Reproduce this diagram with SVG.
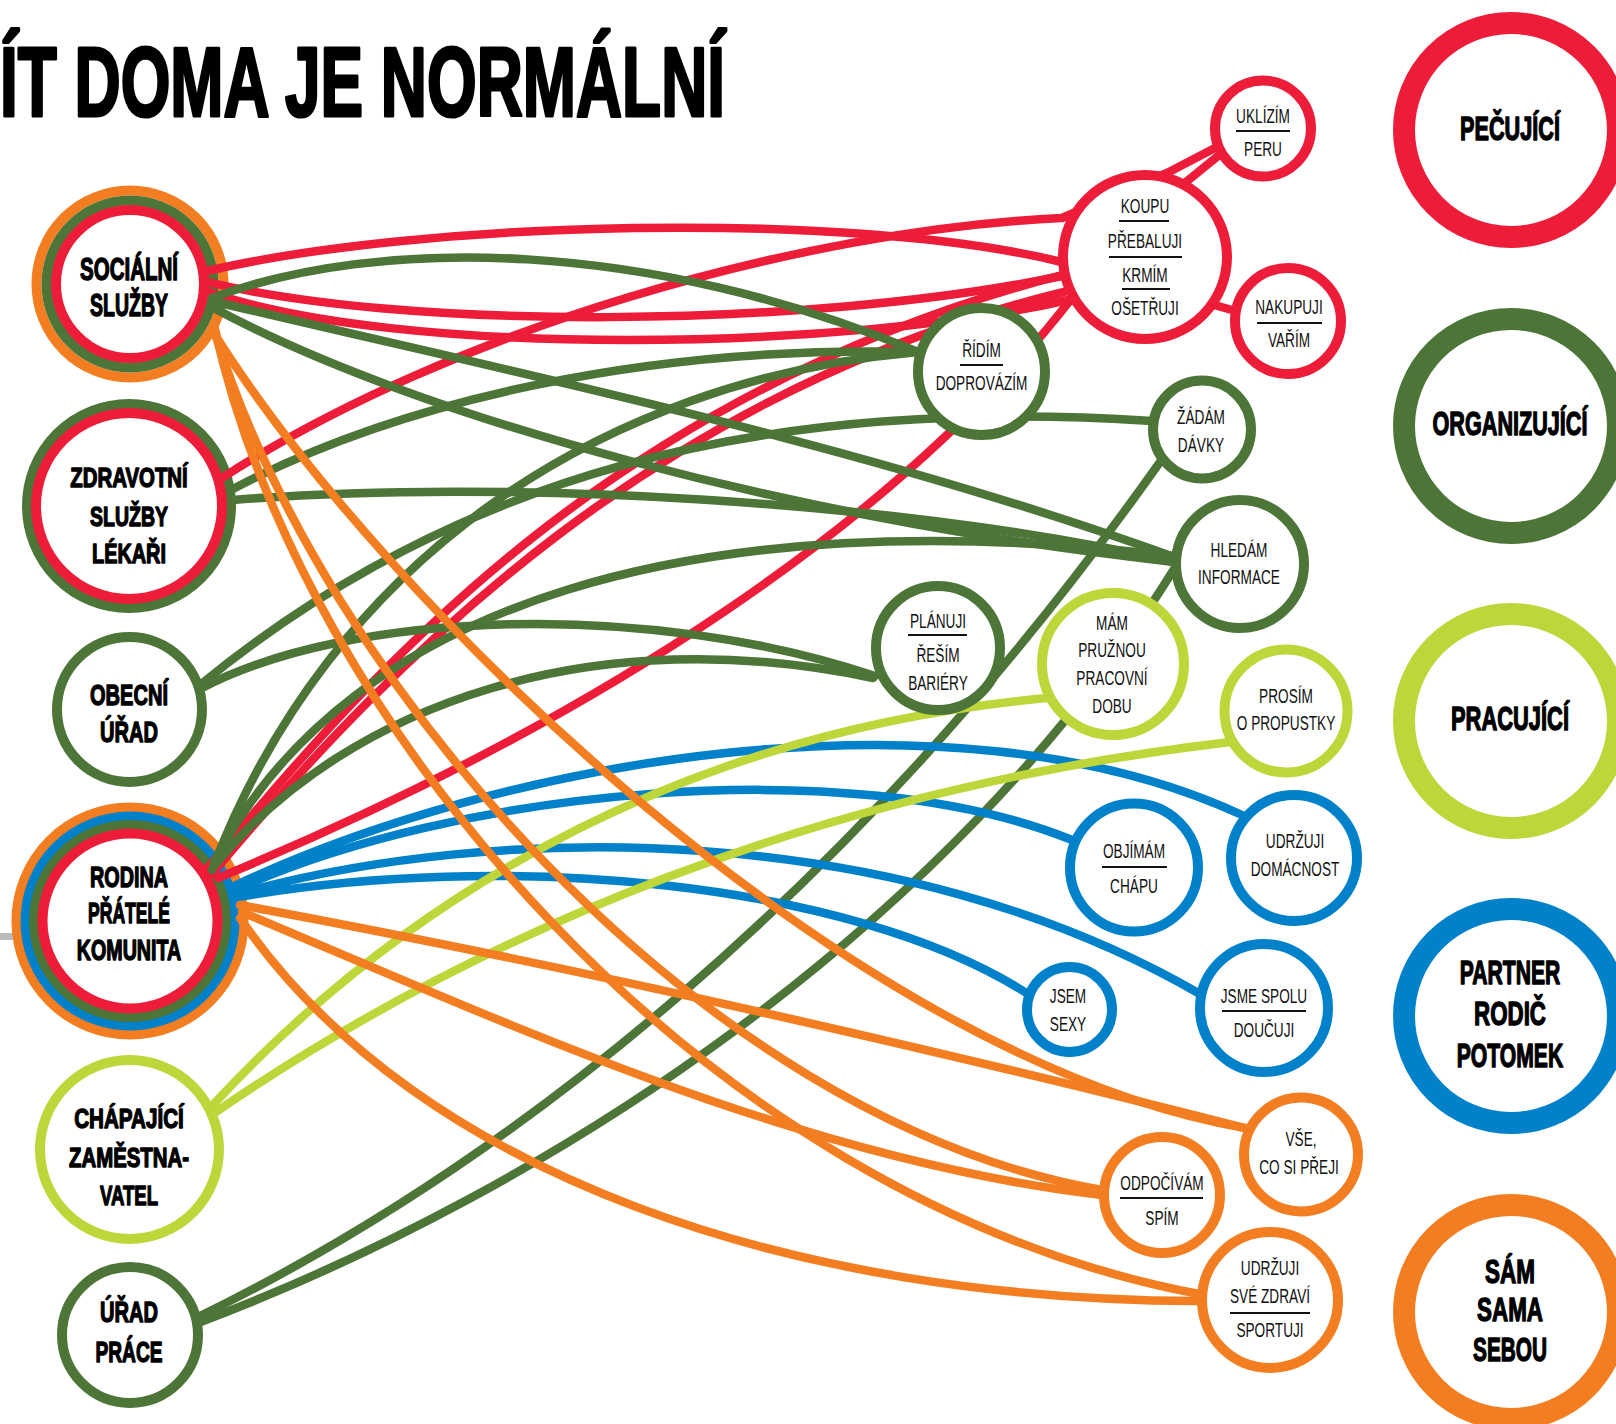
<svg xmlns="http://www.w3.org/2000/svg" width="1616" height="1424" viewBox="0 0 1616 1424">
<style>
.bg{fill:#fff}
.c path{fill:none;stroke-width:8.5;stroke-linecap:round;stroke-linejoin:round}
.r{stroke:#ED1C39}.g{stroke:#4D7537}.l{stroke:#BED63A}.b{stroke:#0081C9}.o{stroke:#F37E22}
.n circle{fill:#fff;stroke-width:10}
.lg circle{fill:#fff;stroke-width:22}
.s{font-family:'Liberation Sans',Arial,sans-serif;font-size:21px;fill:#111;text-anchor:middle}
.h{font-family:'Liberation Sans',Arial,sans-serif;font-weight:bold;fill:#000;stroke:#000;stroke-width:1.4;stroke-linejoin:round;text-anchor:middle}
.title{font-family:'Liberation Sans',Arial,sans-serif;font-weight:bold;font-size:98px;fill:#000;stroke:#000;stroke-width:3.2;stroke-linejoin:round;text-anchor:start}
.dv{stroke:#111;stroke-width:2}
</style>
<rect class="bg" x="0" y="0" width="1616" height="1424"/>
<text class="title" x="0" y="116" textLength="725" lengthAdjust="spacingAndGlyphs">ÍT DOMA JE NORMÁLNÍ</text>
<rect x="0" y="933" width="16" height="7" fill="#BBBBBB"/>

<!-- left nodes -->
<g id="socialni-sluzby" class="n">
<circle cx="130" cy="284" r="93.5" class="o"/>
<circle cx="130" cy="284" r="83.5" class="g"/>
<circle cx="130" cy="284" r="74" class="r" stroke-width="9"/>
<text class="h" font-size="31" transform="translate(129,280) scale(.662,1)">SOCIÁLNÍ</text>
<text class="h" font-size="31" transform="translate(129,316) scale(.629,1)">SLUŽBY</text>
</g>
<g id="zdravotni-sluzby" class="n">
<circle cx="129" cy="506" r="102" class="g"/>
<circle cx="129" cy="506" r="93" class="r" stroke-width="8"/>
<text class="h" font-size="28" transform="translate(129,487) scale(.729,1)">ZDRAVOTNÍ</text>
<text class="h" font-size="28" transform="translate(129,526) scale(.696,1)">SLUŽBY</text>
<text class="h" font-size="28" transform="translate(129,563) scale(.71,1)">LÉKAŘI</text>
</g>
<g id="obecni-urad" class="n">
<circle cx="129.5" cy="709.5" r="72.5" class="g"/>
<text class="h" font-size="30" transform="translate(129,705) scale(.668,1)">OBECNÍ</text>
<text class="h" font-size="30" transform="translate(129,742) scale(.67,1)">ÚŘAD</text>
</g>
<g id="rodina" class="n">
<circle cx="130" cy="921" r="113.5" class="o" stroke-width="9"/>
<circle cx="130" cy="921" r="104.5" class="b" stroke-width="9"/>
<circle cx="130" cy="921" r="96" class="g" stroke-width="8"/>
<circle cx="130" cy="921" r="87.5" class="r" stroke-width="9"/>
<text class="h" font-size="29" transform="translate(129,887) scale(.682,1)">RODINA</text>
<text class="h" font-size="29" transform="translate(129,923) scale(.606,1)">PŘÁTELÉ</text>
<text class="h" font-size="29" transform="translate(129,960) scale(.678,1)">KOMUNITA</text>
</g>
<g id="chapajici-zamestnavatel" class="n">
<circle cx="129.5" cy="1149.5" r="89.5" class="l"/>
<text class="h" font-size="28" transform="translate(129,1128) scale(.736,1)">CHÁPAJÍCÍ</text>
<text class="h" font-size="28" transform="translate(129,1167) scale(.728,1)">ZAMĚSTNA-</text>
<text class="h" font-size="28" transform="translate(129,1205) scale(.665,1)">VATEL</text>
</g>
<g id="urad-prace" class="n">
<circle cx="130" cy="1335" r="68" class="g"/>
<text class="h" font-size="30" transform="translate(129,1322) scale(.67,1)">ÚŘAD</text>
<text class="h" font-size="30" transform="translate(129,1362) scale(.638,1)">PRÁCE</text>
</g>

<!-- connectors -->
<g id="connectors" class="c">
<path class="r" d="M203,272 C420,220 850,210 1062,262 L1232,310"/>
<path class="r" d="M204,281 C400,330 800,330 1062,276"/>
<path class="r" d="M203,290 C400,360 850,350 1068,300"/>
<path class="r" d="M222,478 C450,330 800,230 1062,218 L1167,173 L1215,148"/>
<path class="r" d="M206,870 C380,660 620,390 1062,275 L1186,182 L1218,156"/>
<path class="r" d="M212,874 C400,650 660,390 1064,292"/>
<path class="r" d="M218,878 C600,720 900,520 1072,298"/>

<path class="g" d="M212,298 C380,235 650,240 918,352"/>
<path class="g" d="M212,301 C500,370 850,440 1174,557"/>
<path class="g" d="M210,306 C420,420 800,520 1174,562"/>
<path class="g" d="M233,500 C500,478 900,500 1174,562"/>
<path class="g" d="M231,490 C400,400 650,345 918,352"/>
<path class="g" d="M200,685 C450,480 750,395 1152,421"/>
<path class="g" d="M202,688 C350,610 650,600 875,676"/>
<path class="g" d="M214,866 C350,700 600,620 873,678"/>
<path class="g" d="M214,862 C350,600 700,500 1174,556"/>
<path class="g" d="M212,870 C330,560 600,380 918,352"/>
<path class="g" d="M196,1318 C500,1170 850,900 1160,462"/>
<path class="g" d="M198,1323 C550,1190 950,930 1176,566"/>

<path class="b" d="M232,887 C500,760 950,680 1242,815"/>
<path class="b" d="M233,891 C450,790 850,750 1072,840"/>
<path class="b" d="M233,895 C500,820 900,820 1200,994"/>
<path class="b" d="M233,898 C500,850 850,880 1028,994"/>

<path class="l" d="M210,1108 C420,880 700,730 1047,698"/>
<path class="l" d="M213,1114 C480,930 820,790 1230,742"/>

<path class="o" d="M214,325 C300,720 700,1200 1199,1294"/>
<path class="o" d="M213,327 C320,680 700,1120 1102,1190"/>
<path class="o" d="M212,330 C380,600 850,1060 1245,1128"/>
<path class="o" d="M240,905 Q700,990 1245,1128"/>
<path class="o" d="M242,912 C500,1020 800,1160 1102,1195"/>
<path class="o" d="M240,918 C420,1180 800,1300 1199,1301"/>
</g>

<!-- right nodes -->
<g id="uklizim" class="n">
<circle cx="1263" cy="128.5" r="48" class="r"/>
<text class="s" transform="translate(1263,123) scale(.65,1)">UKLÍZÍM</text>
<line class="dv" x1="1236" y1="131" x2="1290" y2="131"/>
<text class="s" transform="translate(1263,156) scale(.65,1)">PERU</text>
</g>
<g id="koupu" class="n">
<circle cx="1145" cy="257" r="82" class="r"/>
<text class="s" transform="translate(1145,213) scale(.65,1)">KOUPU</text>
<line class="dv" x1="1119" y1="221" x2="1169" y2="221"/>
<text class="s" transform="translate(1145,248) scale(.65,1)">PŘEBALUJI</text>
<line class="dv" x1="1109" y1="257" x2="1182" y2="257"/>
<text class="s" transform="translate(1145,282) scale(.65,1)">KRMÍM</text>
<line class="dv" x1="1122" y1="289" x2="1170" y2="289"/>
<text class="s" transform="translate(1145,315) scale(.65,1)">OŠETŘUJI</text>
</g>
<g id="nakupuji" class="n">
<circle cx="1288" cy="321" r="53" class="r"/>
<text class="s" transform="translate(1289,314) scale(.65,1)">NAKUPUJI</text>
<line class="dv" x1="1257" y1="323" x2="1322" y2="323"/>
<text class="s" transform="translate(1289,347) scale(.65,1)">VAŘÍM</text>
</g>
<g id="ridim" class="n">
<circle cx="981.5" cy="371.5" r="63.5" class="g"/>
<text class="s" transform="translate(981.5,357) scale(.65,1)">ŘÍDÍM</text>
<line class="dv" x1="960" y1="365" x2="1003" y2="365"/>
<text class="s" transform="translate(981.5,390) scale(.65,1)">DOPROVÁZÍM</text>
</g>
<g id="zadam" class="n">
<circle cx="1202" cy="429.5" r="49" class="g"/>
<text class="s" transform="translate(1201,424) scale(.65,1)">ŽÁDÁM</text>
<text class="s" transform="translate(1201,452) scale(.65,1)">DÁVKY</text>
</g>
<g id="hledam" class="n">
<circle cx="1240" cy="564" r="64" class="g"/>
<text class="s" transform="translate(1239,557) scale(.65,1)">HLEDÁM</text>
<text class="s" transform="translate(1239,584) scale(.65,1)">INFORMACE</text>
</g>
<g id="planuji" class="n">
<circle cx="938" cy="648" r="62" class="g"/>
<text class="s" transform="translate(938,628) scale(.65,1)">PLÁNUJI</text>
<line class="dv" x1="908" y1="635" x2="967" y2="635"/>
<text class="s" transform="translate(938,662) scale(.65,1)">ŘEŠÍM</text>
<text class="s" transform="translate(938,690) scale(.65,1)">BARIÉRY</text>
</g>
<g id="mam-pruznou" class="n">
<circle cx="1113" cy="664" r="71" class="l"/>
<text class="s" transform="translate(1112,630) scale(.65,1)">MÁM</text>
<text class="s" transform="translate(1112,657) scale(.65,1)">PRUŽNOU</text>
<text class="s" transform="translate(1112,685) scale(.65,1)">PRACOVNÍ</text>
<text class="s" transform="translate(1112,713) scale(.65,1)">DOBU</text>
</g>
<g id="prosim" class="n">
<circle cx="1286" cy="711" r="61.5" class="l"/>
<text class="s" transform="translate(1286,703) scale(.65,1)">PROSÍM</text>
<text class="s" transform="translate(1286,730) scale(.65,1)">O PROPUSTKY</text>
</g>
<g id="udrzuji-domacnost" class="n">
<circle cx="1294" cy="858" r="63" class="b"/>
<text class="s" transform="translate(1295,848) scale(.65,1)">UDRŽUJI</text>
<text class="s" transform="translate(1295,876) scale(.65,1)">DOMÁCNOST</text>
</g>
<g id="objimam" class="n">
<circle cx="1134" cy="867.5" r="64" class="b"/>
<text class="s" transform="translate(1134,858) scale(.65,1)">OBJÍMÁM</text>
<line class="dv" x1="1102" y1="867" x2="1167" y2="867"/>
<text class="s" transform="translate(1134,893) scale(.65,1)">CHÁPU</text>
</g>
<g id="jsem-sexy" class="n">
<circle cx="1069.5" cy="1009.5" r="42.5" class="b"/>
<text class="s" transform="translate(1068,1003) scale(.65,1)">JSEM</text>
<text class="s" transform="translate(1068,1031) scale(.65,1)">SEXY</text>
</g>
<g id="jsme-spolu" class="n">
<circle cx="1264" cy="1008" r="64" class="b"/>
<text class="s" transform="translate(1264,1003) scale(.65,1)">JSME SPOLU</text>
<line class="dv" x1="1222" y1="1011" x2="1306" y2="1011"/>
<text class="s" transform="translate(1264,1037) scale(.65,1)">DOUČUJI</text>
</g>
<g id="vse-co-si-preji" class="n">
<circle cx="1301" cy="1154.5" r="57" class="o"/>
<text class="s" transform="translate(1301,1146) scale(.65,1)">VŠE,</text>
<text class="s" transform="translate(1299,1174) scale(.65,1)">CO SI PŘEJI</text>
</g>
<g id="odpocivam" class="n">
<circle cx="1162" cy="1195" r="58" class="o"/>
<text class="s" transform="translate(1162,1190) scale(.65,1)">ODPOČÍVÁM</text>
<line class="dv" x1="1120" y1="1198" x2="1203" y2="1198"/>
<text class="s" transform="translate(1162,1225) scale(.65,1)">SPÍM</text>
</g>
<g id="udrzuji-zdravi" class="n">
<circle cx="1270" cy="1300" r="68" class="o"/>
<text class="s" transform="translate(1270,1275) scale(.65,1)">UDRŽUJI</text>
<text class="s" transform="translate(1270,1303) scale(.65,1)">SVÉ ZDRAVÍ</text>
<line class="dv" x1="1230" y1="1313" x2="1310" y2="1313"/>
<text class="s" transform="translate(1270,1337) scale(.65,1)">SPORTUJI</text>
</g>

<!-- legend -->
<g id="legend-pecujici" class="lg">
<circle cx="1511" cy="130" r="107" class="r"/>
<text class="h" font-size="34" transform="translate(1510,140) scale(.638,1)">PEČUJÍCÍ</text>
</g>
<g id="legend-organizujici" class="lg">
<circle cx="1511" cy="426" r="107" class="g"/>
<text class="h" font-size="34" transform="translate(1510,435) scale(.636,1)">ORGANIZUJÍCÍ</text>
</g>
<g id="legend-pracujici" class="lg">
<circle cx="1511" cy="721" r="107" class="l"/>
<text class="h" font-size="34" transform="translate(1510,730) scale(.644,1)">PRACUJÍCÍ</text>
</g>
<g id="legend-partner" class="lg">
<circle cx="1511" cy="1016" r="107" class="b"/>
<text class="h" font-size="34" transform="translate(1510,984) scale(.621,1)">PARTNER</text>
<text class="h" font-size="34" transform="translate(1510,1025) scale(.657,1)">RODIČ</text>
<text class="h" font-size="34" transform="translate(1510,1067) scale(.622,1)">POTOMEK</text>
</g>
<g id="legend-sam" class="lg">
<circle cx="1511" cy="1312" r="107" class="o"/>
<text class="h" font-size="34" transform="translate(1510,1283) scale(.662,1)">SÁM</text>
<text class="h" font-size="34" transform="translate(1510,1321) scale(.659,1)">SAMA</text>
<text class="h" font-size="34" transform="translate(1510,1361) scale(.612,1)">SEBOU</text>
</g>
</svg>
